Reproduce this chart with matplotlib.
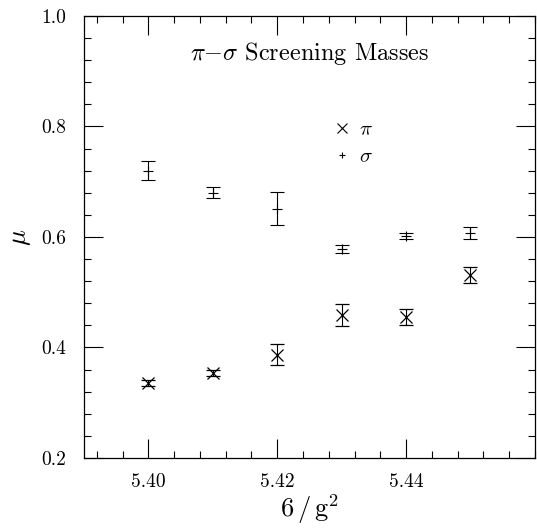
import matplotlib
matplotlib.use("Agg")
import matplotlib.pyplot as plt
from matplotlib.lines import Line2D
from matplotlib.ticker import MultipleLocator

plt.rcParams['font.family'] = ['cmr10', 'DejaVu Serif']
plt.rcParams['mathtext.fontset'] = 'cm'
plt.rcParams['axes.formatter.use_mathtext'] = True

# data
beta = [5.40, 5.41, 5.42, 5.43, 5.44, 5.45]
sigma_mass = [0.720, 0.680, 0.651, 0.578, 0.602, 0.607]
sigma_err = [0.017, 0.010, 0.030, 0.007, 0.005, 0.011]
pi_mass = [0.336, 0.354, 0.387, 0.459, 0.455, 0.531]
pi_err = [0.005, 0.006, 0.019, 0.020, 0.014, 0.014]

xticks = [5.40, 5.42, 5.44]
xtick_labels = ["5.40", "5.42", "5.44"]
yticks = [0.2, 0.4, 0.6, 0.8, 1.0]
ytick_labels = ["0.2", "0.4", "0.6", "0.8", "1.0"]

fig = plt.figure(figsize=(5.37, 5.28), dpi=100)
ax = fig.add_axes([0.1564, 0.1326, 0.8396, 0.8371])

# sigma: plus markers
ax.errorbar(beta, sigma_mass, yerr=sigma_err, fmt='+', color='black',
            markersize=7, mew=0.8, elinewidth=0.8, capsize=5, capthick=0.8)
# pi: cross markers
ax.errorbar(beta, pi_mass, yerr=pi_err, fmt='x', color='black',
            markersize=9, mew=0.9, elinewidth=0.8, capsize=5, capthick=0.8)

ax.set_xlim(5.39, 5.46)
ax.set_ylim(0.2, 1.0)
ax.set_xticks(xticks, xtick_labels)
ax.set_yticks(yticks, ytick_labels)
ax.xaxis.set_minor_locator(MultipleLocator(0.004))
ax.yaxis.set_minor_locator(MultipleLocator(0.04))
ax.tick_params(which='both', direction='in', top=True, right=True,
               labelsize=14, width=0.8)
ax.tick_params(which='major', length=14)
ax.tick_params(axis='x', which='major', pad=11)
ax.tick_params(axis='y', which='major', pad=13)
ax.tick_params(which='minor', length=5)
for s in ax.spines.values():
    s.set_linewidth(0.9)

ax.set_xlabel(r"$6\,/\,\mathrm{g}^2$", fontsize=19, labelpad=1)
ax.set_ylabel(r"$\mu$", fontsize=19, labelpad=6)

ax.text(0.5, 0.916, r"$\pi$$-$$\sigma$ Screening Masses", transform=ax.transAxes,
        ha='center', va='center', fontsize=17.5)

handles = [
    Line2D([], [], ls='none', marker='x', color='black', markersize=7, mew=0.8),
    Line2D([], [], ls='none', marker='+', color='black', markersize=5, mew=0.8),
]
ax.legend(handles, [r"$\pi$", r"$\sigma$"], loc='upper left',
          bbox_to_anchor=(0.507, 0.806), frameon=False, fontsize=15,
          handlelength=1.0, handletextpad=0.35, labelspacing=0.4)

fig.savefig("out.png", dpi=100)
